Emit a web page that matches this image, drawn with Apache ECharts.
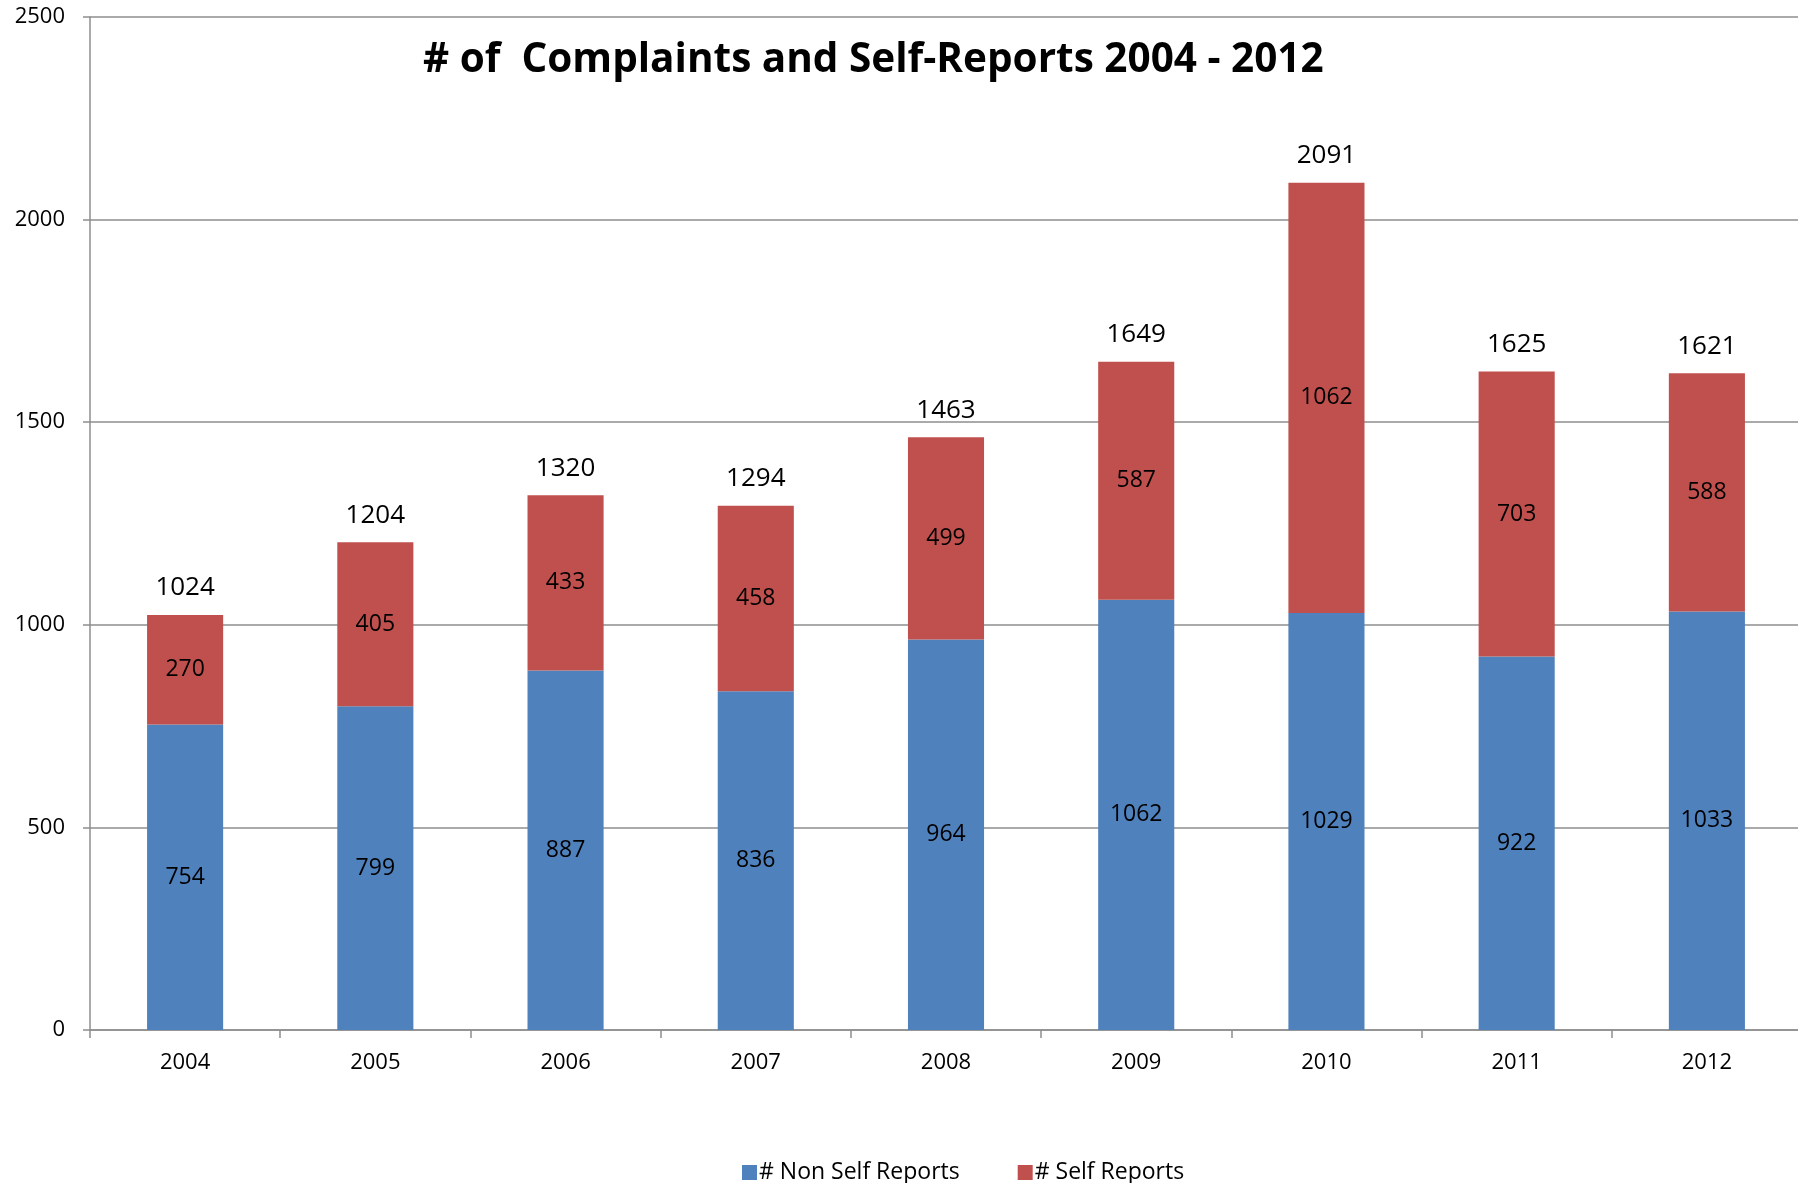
<!DOCTYPE html>
<html>
<head>
<meta charset="utf-8">
<script src="https://cdn.jsdelivr.net/npm/echarts@6/dist/echarts.min.js"></script>
<style>
  html, body { margin: 0; padding: 0; background: #fff; overflow: hidden; }
  #chart { width: 1810px; height: 1183px; }
</style>
</head>
<body>
<div id="chart"></div>
<script>
var years = ['2004', '2005', '2006', '2007', '2008', '2009', '2010', '2011', '2012'];
var nonSelfReports = [754, 799, 887, 836, 964, 1062, 1029, 922, 1033];
var selfReports = [270, 405, 433, 458, 499, 587, 1062, 703, 588];
var totals = [1024, 1204, 1320, 1294, 1463, 1649, 2091, 1625, 1621];

var font = '"Open Sans", Lato, sans-serif';
var gridColor = '#8e8e8e';

// the plot runs a little past the right edge of the window, like the original
var chart = echarts.init(document.getElementById('chart'));

var option = {
	animation: false,
	title: {
		text: '# of  Complaints and Self-Reports 2004 - 2012',
		left: 418,
		top: 30,
		textStyle: {
			fontFamily: font,
			fontWeight: 'bold',
			fontSize: 40.5,
			lineHeight: 50,
			color: '#000'
		}
	},
	legend: {
		data: ['# Non Self Reports', '# Self Reports'],
		left: 737,
		top: 1156,
		icon: 'rect',
		itemWidth: 15,
		itemHeight: 15,
		itemGap: 58,
		textStyle: { fontFamily: font, fontSize: 23, color: '#000', padding: [0, 0, 0, -3] }
	},
	grid: {
		left: 90,
		top: 17,
		width: 1712,
		bottom: 153
	},
	xAxis: {
		type: 'category',
		data: years,
		axisLine: { lineStyle: { color: gridColor, width: 1.5 } },
		axisTick: { show: true, length: 8, lineStyle: { color: gridColor, width: 1.5 } },
		axisLabel: { fontFamily: font, fontSize: 22, color: '#000', margin: 22 }
	},
	yAxis: {
		type: 'value',
		min: 0,
		max: 2500,
		interval: 500,
		axisLine: { show: true, lineStyle: { color: gridColor, width: 1.5 } },
		axisTick: { show: true, length: 7, lineStyle: { color: gridColor, width: 1.5 } },
		axisLabel: {
			fontFamily: font, fontSize: 22, color: '#000', margin: 25,
			formatter: function (v) { return String(v); }
		},
		splitLine: { lineStyle: { color: gridColor, width: 1.5 } }
	},
	series: [
		{
			name: '# Non Self Reports',
			type: 'bar',
			stack: 'total',
			barWidth: '40%',
			itemStyle: { color: '#4f81bd' },
			label: { show: true, position: 'inside', fontFamily: font, fontSize: 23, color: '#000' },
			data: nonSelfReports
		},
		{
			name: '# Self Reports',
			type: 'bar',
			stack: 'total',
			barWidth: '40%',
			itemStyle: { color: '#c0504d' },
			label: { show: true, position: 'inside', fontFamily: font, fontSize: 23, color: '#000' },
			data: selfReports
		},
		{
			name: 'Total',
			type: 'scatter',
			symbolSize: 0,
			silent: true,
			itemStyle: { opacity: 1 },
			label: { show: true, position: 'top', distance: 14, fontFamily: font, fontSize: 26, color: '#000' },
			data: totals
		}
	]
};

chart.setOption(option);
</script>
</body>
</html>
